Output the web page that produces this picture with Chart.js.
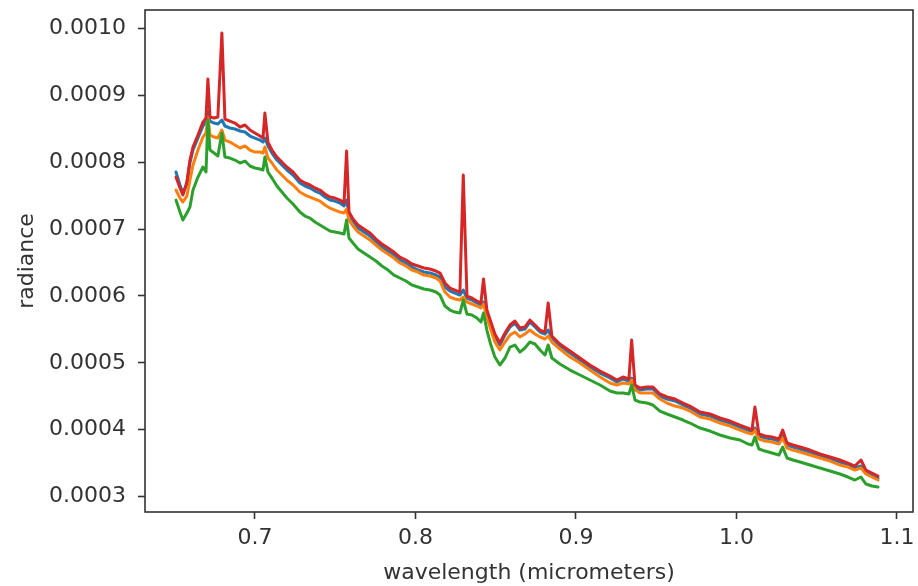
<!DOCTYPE html>
<html>
<head>
<meta charset="utf-8">
<script src="https://cdn.jsdelivr.net/npm/chart.js@4.4.0/dist/chart.umd.min.js"></script>
<style>
  html, body { margin: 0; padding: 0; background: #fff; }
  #wrap { width: 918px; height: 586px; }
</style>
</head>
<body>
<div id="wrap"><canvas id="chart" width="918" height="586"></canvas></div>
<script>
// comprimentos de onda (micrometros)
const wavelength = [
  0.6508, 0.6533, 0.6551, 0.6576, 0.6595, 0.6614, 0.6645, 0.6676, 0.6695, 0.6707,
  0.6720, 0.6745, 0.6769, 0.6794, 0.6813, 0.6844, 0.6875, 0.6907, 0.6938, 0.6969,
  0.7000, 0.7031, 0.7050, 0.7062, 0.7081, 0.7106, 0.7137, 0.7168, 0.7199, 0.7237,
  0.7280, 0.7312, 0.7343, 0.7374, 0.7405, 0.7436, 0.7467, 0.7498, 0.7530, 0.7555,
  0.7571, 0.7586, 0.7611, 0.7642, 0.7679, 0.7717, 0.7754, 0.7791, 0.7829, 0.7866,
  0.7903, 0.7941, 0.7978, 0.8016, 0.8053, 0.8090, 0.8128, 0.8153, 0.8184, 0.8215,
  0.8246, 0.8277, 0.8298, 0.8321, 0.8352, 0.8383, 0.8408, 0.8424, 0.8445, 0.8470,
  0.8495, 0.8526, 0.8558, 0.8589, 0.8620, 0.8651, 0.8682, 0.8713, 0.8745, 0.8776,
  0.8807, 0.8827, 0.8850, 0.8900, 0.8963, 0.9025, 0.9087, 0.9150, 0.9212, 0.9255,
  0.9293, 0.9330, 0.9347, 0.9368, 0.9399, 0.9442, 0.9480, 0.9523, 0.9567, 0.9617,
  0.9667, 0.9710, 0.9773, 0.9835, 0.9897, 0.9960, 1.0022, 1.0072, 1.0097, 1.0115,
  1.0140, 1.0178, 1.0221, 1.0265, 1.0288, 1.0315, 1.0352, 1.0396, 1.0458, 1.0520,
  1.0583, 1.0645, 1.0695, 1.0738, 1.0776, 1.0807, 1.0844, 1.0882
];

// radiância de cada pixel (séries azul, laranja, verde, vermelha)
const radianceBlue = [
  7.852e-4, 7.658e-4, 7.538e-4, 7.673e-4, 7.987e-4, 8.181e-4, 8.360e-4, 8.540e-4, 8.599e-4, 8.749e-4,
  8.614e-4, 8.584e-4, 8.569e-4, 8.629e-4, 8.540e-4, 8.510e-4, 8.495e-4, 8.465e-4, 8.450e-4, 8.390e-4,
  8.360e-4, 8.330e-4, 8.300e-4, 8.360e-4, 8.241e-4, 8.136e-4, 8.031e-4, 7.957e-4, 7.882e-4, 7.807e-4,
  7.688e-4, 7.643e-4, 7.613e-4, 7.568e-4, 7.538e-4, 7.478e-4, 7.433e-4, 7.418e-4, 7.389e-4, 7.344e-4,
  7.433e-4, 7.224e-4, 7.120e-4, 7.015e-4, 6.955e-4, 6.895e-4, 6.806e-4, 6.731e-4, 6.671e-4, 6.611e-4,
  6.537e-4, 6.492e-4, 6.432e-4, 6.387e-4, 6.357e-4, 6.342e-4, 6.312e-4, 6.282e-4, 6.133e-4, 6.073e-4,
  6.043e-4, 6.013e-4, 6.088e-4, 5.969e-4, 5.939e-4, 5.894e-4, 5.864e-4, 5.909e-4, 5.759e-4, 5.580e-4,
  5.400e-4, 5.266e-4, 5.415e-4, 5.535e-4, 5.595e-4, 5.490e-4, 5.505e-4, 5.610e-4, 5.535e-4, 5.460e-4,
  5.430e-4, 5.490e-4, 5.371e-4, 5.251e-4, 5.146e-4, 5.042e-4, 4.937e-4, 4.847e-4, 4.773e-4, 4.713e-4,
  4.758e-4, 4.728e-4, 4.773e-4, 4.638e-4, 4.593e-4, 4.608e-4, 4.608e-4, 4.504e-4, 4.459e-4, 4.429e-4,
  4.369e-4, 4.324e-4, 4.235e-4, 4.205e-4, 4.145e-4, 4.100e-4, 4.040e-4, 3.995e-4, 3.966e-4, 4.025e-4,
  3.906e-4, 3.876e-4, 3.861e-4, 3.831e-4, 3.906e-4, 3.771e-4, 3.741e-4, 3.711e-4, 3.667e-4, 3.607e-4,
  3.562e-4, 3.517e-4, 3.472e-4, 3.427e-4, 3.457e-4, 3.368e-4, 3.323e-4, 3.278e-4
];

const radianceOrange = [
  7.583e-4, 7.463e-4, 7.404e-4, 7.493e-4, 7.732e-4, 7.957e-4, 8.181e-4, 8.375e-4, 8.435e-4, 8.674e-4,
  8.405e-4, 8.375e-4, 8.360e-4, 8.480e-4, 8.330e-4, 8.300e-4, 8.256e-4, 8.211e-4, 8.241e-4, 8.181e-4,
  8.151e-4, 8.151e-4, 8.136e-4, 8.226e-4, 8.061e-4, 7.987e-4, 7.882e-4, 7.807e-4, 7.732e-4, 7.658e-4,
  7.553e-4, 7.508e-4, 7.478e-4, 7.448e-4, 7.418e-4, 7.359e-4, 7.314e-4, 7.284e-4, 7.254e-4, 7.239e-4,
  7.299e-4, 7.134e-4, 7.045e-4, 6.955e-4, 6.895e-4, 6.835e-4, 6.761e-4, 6.686e-4, 6.626e-4, 6.566e-4,
  6.492e-4, 6.447e-4, 6.387e-4, 6.357e-4, 6.312e-4, 6.297e-4, 6.268e-4, 6.223e-4, 6.058e-4, 5.983e-4,
  5.954e-4, 5.939e-4, 5.983e-4, 5.909e-4, 5.879e-4, 5.849e-4, 5.819e-4, 5.879e-4, 5.685e-4, 5.490e-4,
  5.311e-4, 5.191e-4, 5.311e-4, 5.415e-4, 5.460e-4, 5.386e-4, 5.430e-4, 5.490e-4, 5.430e-4, 5.386e-4,
  5.356e-4, 5.400e-4, 5.311e-4, 5.206e-4, 5.087e-4, 4.997e-4, 4.892e-4, 4.788e-4, 4.698e-4, 4.668e-4,
  4.698e-4, 4.683e-4, 4.743e-4, 4.593e-4, 4.548e-4, 4.548e-4, 4.548e-4, 4.459e-4, 4.399e-4, 4.354e-4,
  4.324e-4, 4.279e-4, 4.190e-4, 4.160e-4, 4.100e-4, 4.055e-4, 3.995e-4, 3.951e-4, 3.936e-4, 3.995e-4,
  3.861e-4, 3.831e-4, 3.816e-4, 3.786e-4, 3.876e-4, 3.726e-4, 3.696e-4, 3.667e-4, 3.622e-4, 3.577e-4,
  3.532e-4, 3.472e-4, 3.442e-4, 3.397e-4, 3.427e-4, 3.338e-4, 3.293e-4, 3.248e-4
];

const radianceGreen = [
  7.433e-4, 7.254e-4, 7.134e-4, 7.239e-4, 7.329e-4, 7.583e-4, 7.777e-4, 7.927e-4, 7.852e-4, 8.629e-4,
  8.181e-4, 8.136e-4, 8.091e-4, 8.435e-4, 8.076e-4, 8.061e-4, 8.031e-4, 7.987e-4, 8.016e-4, 7.942e-4,
  7.912e-4, 7.897e-4, 7.882e-4, 8.076e-4, 7.852e-4, 7.762e-4, 7.643e-4, 7.553e-4, 7.463e-4, 7.374e-4,
  7.254e-4, 7.194e-4, 7.164e-4, 7.105e-4, 7.060e-4, 7.015e-4, 6.970e-4, 6.955e-4, 6.940e-4, 6.925e-4,
  7.134e-4, 6.865e-4, 6.791e-4, 6.701e-4, 6.641e-4, 6.581e-4, 6.522e-4, 6.447e-4, 6.387e-4, 6.312e-4,
  6.268e-4, 6.223e-4, 6.163e-4, 6.133e-4, 6.103e-4, 6.088e-4, 6.058e-4, 6.013e-4, 5.849e-4, 5.789e-4,
  5.759e-4, 5.744e-4, 5.939e-4, 5.729e-4, 5.714e-4, 5.670e-4, 5.610e-4, 5.744e-4, 5.490e-4, 5.266e-4,
  5.087e-4, 4.967e-4, 5.072e-4, 5.236e-4, 5.266e-4, 5.161e-4, 5.221e-4, 5.311e-4, 5.281e-4, 5.191e-4,
  5.117e-4, 5.266e-4, 5.072e-4, 4.982e-4, 4.892e-4, 4.818e-4, 4.743e-4, 4.668e-4, 4.578e-4, 4.548e-4,
  4.548e-4, 4.534e-4, 4.668e-4, 4.444e-4, 4.414e-4, 4.399e-4, 4.369e-4, 4.279e-4, 4.235e-4, 4.190e-4,
  4.145e-4, 4.100e-4, 4.025e-4, 3.980e-4, 3.921e-4, 3.876e-4, 3.846e-4, 3.786e-4, 3.771e-4, 3.891e-4,
  3.711e-4, 3.681e-4, 3.652e-4, 3.622e-4, 3.741e-4, 3.577e-4, 3.547e-4, 3.517e-4, 3.472e-4, 3.427e-4,
  3.383e-4, 3.338e-4, 3.293e-4, 3.248e-4, 3.293e-4, 3.188e-4, 3.158e-4, 3.143e-4
];

const radianceRed = [
  7.777e-4, 7.613e-4, 7.508e-4, 7.703e-4, 8.031e-4, 8.226e-4, 8.405e-4, 8.599e-4, 8.659e-4, 9.242e-4,
  8.674e-4, 8.659e-4, 8.674e-4, 9.930e-4, 8.644e-4, 8.614e-4, 8.584e-4, 8.525e-4, 8.555e-4, 8.480e-4,
  8.435e-4, 8.390e-4, 8.360e-4, 8.734e-4, 8.300e-4, 8.181e-4, 8.076e-4, 8.001e-4, 7.927e-4, 7.852e-4,
  7.732e-4, 7.688e-4, 7.658e-4, 7.613e-4, 7.583e-4, 7.523e-4, 7.478e-4, 7.463e-4, 7.433e-4, 7.389e-4,
  8.166e-4, 7.254e-4, 7.149e-4, 7.060e-4, 7.000e-4, 6.940e-4, 6.850e-4, 6.776e-4, 6.716e-4, 6.656e-4,
  6.581e-4, 6.537e-4, 6.477e-4, 6.447e-4, 6.417e-4, 6.402e-4, 6.372e-4, 6.342e-4, 6.193e-4, 6.118e-4,
  6.088e-4, 6.058e-4, 7.807e-4, 5.998e-4, 5.969e-4, 5.924e-4, 5.894e-4, 6.253e-4, 5.789e-4, 5.610e-4,
  5.430e-4, 5.296e-4, 5.445e-4, 5.565e-4, 5.625e-4, 5.520e-4, 5.535e-4, 5.640e-4, 5.565e-4, 5.490e-4,
  5.460e-4, 5.894e-4, 5.400e-4, 5.281e-4, 5.176e-4, 5.072e-4, 4.967e-4, 4.877e-4, 4.803e-4, 4.743e-4,
  4.788e-4, 4.758e-4, 5.341e-4, 4.668e-4, 4.623e-4, 4.638e-4, 4.638e-4, 4.534e-4, 4.489e-4, 4.459e-4,
  4.399e-4, 4.354e-4, 4.264e-4, 4.235e-4, 4.175e-4, 4.130e-4, 4.070e-4, 4.025e-4, 3.995e-4, 4.339e-4,
  3.936e-4, 3.906e-4, 3.891e-4, 3.861e-4, 3.995e-4, 3.801e-4, 3.771e-4, 3.741e-4, 3.696e-4, 3.637e-4,
  3.592e-4, 3.547e-4, 3.502e-4, 3.457e-4, 3.547e-4, 3.397e-4, 3.353e-4, 3.308e-4
];

// marcas dos eixos
const xTicks = [0.7, 0.8, 0.9, 1.0, 1.1];
const yTicks = [0.0003, 0.0004, 0.0005, 0.0006, 0.0007, 0.0008, 0.0009, 0.0010];

const fonte = { family: "'DejaVu Sans', sans-serif", size: 22 };
const corTexto = '#333';

// junta x e y para o Chart.js
function pontos(valores) {
  return wavelength.map((w, i) => ({ x: w, y: valores[i] }));
}

function serie(valores, cor, ordem) {
  return {
    data: pontos(valores),
    borderColor: cor,
    borderWidth: 3,
    borderJoinStyle: 'round',
    borderCapStyle: 'round',
    pointRadius: 0,
    tension: 0,
    fill: false,
    order: ordem
  };
}

// moldura em volta da área do gráfico (estilo matplotlib)
const moldura = {
  id: 'moldura',
  afterDraw(chart) {
    const a = chart.chartArea;
    const ctx = chart.ctx;
    ctx.save();
    ctx.strokeStyle = '#333';
    ctx.lineWidth = 1.6;
    ctx.strokeRect(a.left, a.top, a.right - a.left, a.bottom - a.top);
    ctx.restore();
  }
};

const ctx = document.getElementById('chart').getContext('2d');

new Chart(ctx, {
  type: 'line',
  data: {
    datasets: [
      serie(radianceBlue, '#1f77b4', 4),
      serie(radianceOrange, '#ff7f0e', 3),
      serie(radianceGreen, '#2ca02c', 2),
      serie(radianceRed, '#d62728', 1)
    ]
  },
  options: {
    responsive: false,
    animation: false,
    devicePixelRatio: 1,
    layout: { padding: { top: 10, right: 5, left: 0, bottom: 0 } },
    plugins: {
      legend: { display: false },
      tooltip: { enabled: false }
    },
    scales: {
      x: {
        type: 'linear',
        min: 0.6315,
        max: 1.1100,
        afterBuildTicks: s => { s.ticks = xTicks.map(v => ({ value: v })); },
        afterFit: s => { s.height = 74; s.paddingLeft = 0; s.paddingRight = 0; },
        ticks: {
          callback: v => v.toFixed(1),
          font: fonte,
          color: corTexto,
          padding: 6,
          maxRotation: 0,
          autoSkip: false
        },
        grid: { drawOnChartArea: false, tickLength: 7, tickWidth: 1.6, tickColor: '#333' },
        border: { display: false },
        title: {
          display: true,
          text: 'wavelength (micrometers)',
          font: fonte,
          color: corTexto,
          padding: { top: 0, bottom: 0 }
        }
      },
      y: {
        type: 'linear',
        min: 0.000277,
        max: 0.0010274,
        afterBuildTicks: s => { s.ticks = yTicks.map(v => ({ value: v })); },
        afterFit: s => { s.width = 145; s.paddingTop = 0; s.paddingBottom = 0; },
        ticks: {
          callback: v => v.toFixed(4),
          font: fonte,
          color: corTexto,
          padding: 12,
          autoSkip: false
        },
        grid: { drawOnChartArea: false, tickLength: 7, tickWidth: 1.6, tickColor: '#333' },
        border: { display: false },
        title: {
          display: true,
          text: 'radiance',
          font: fonte,
          color: corTexto,
          padding: { top: 14, bottom: 0 }
        }
      }
    }
  },
  plugins: [moldura]
});
</script>
</body>
</html>
